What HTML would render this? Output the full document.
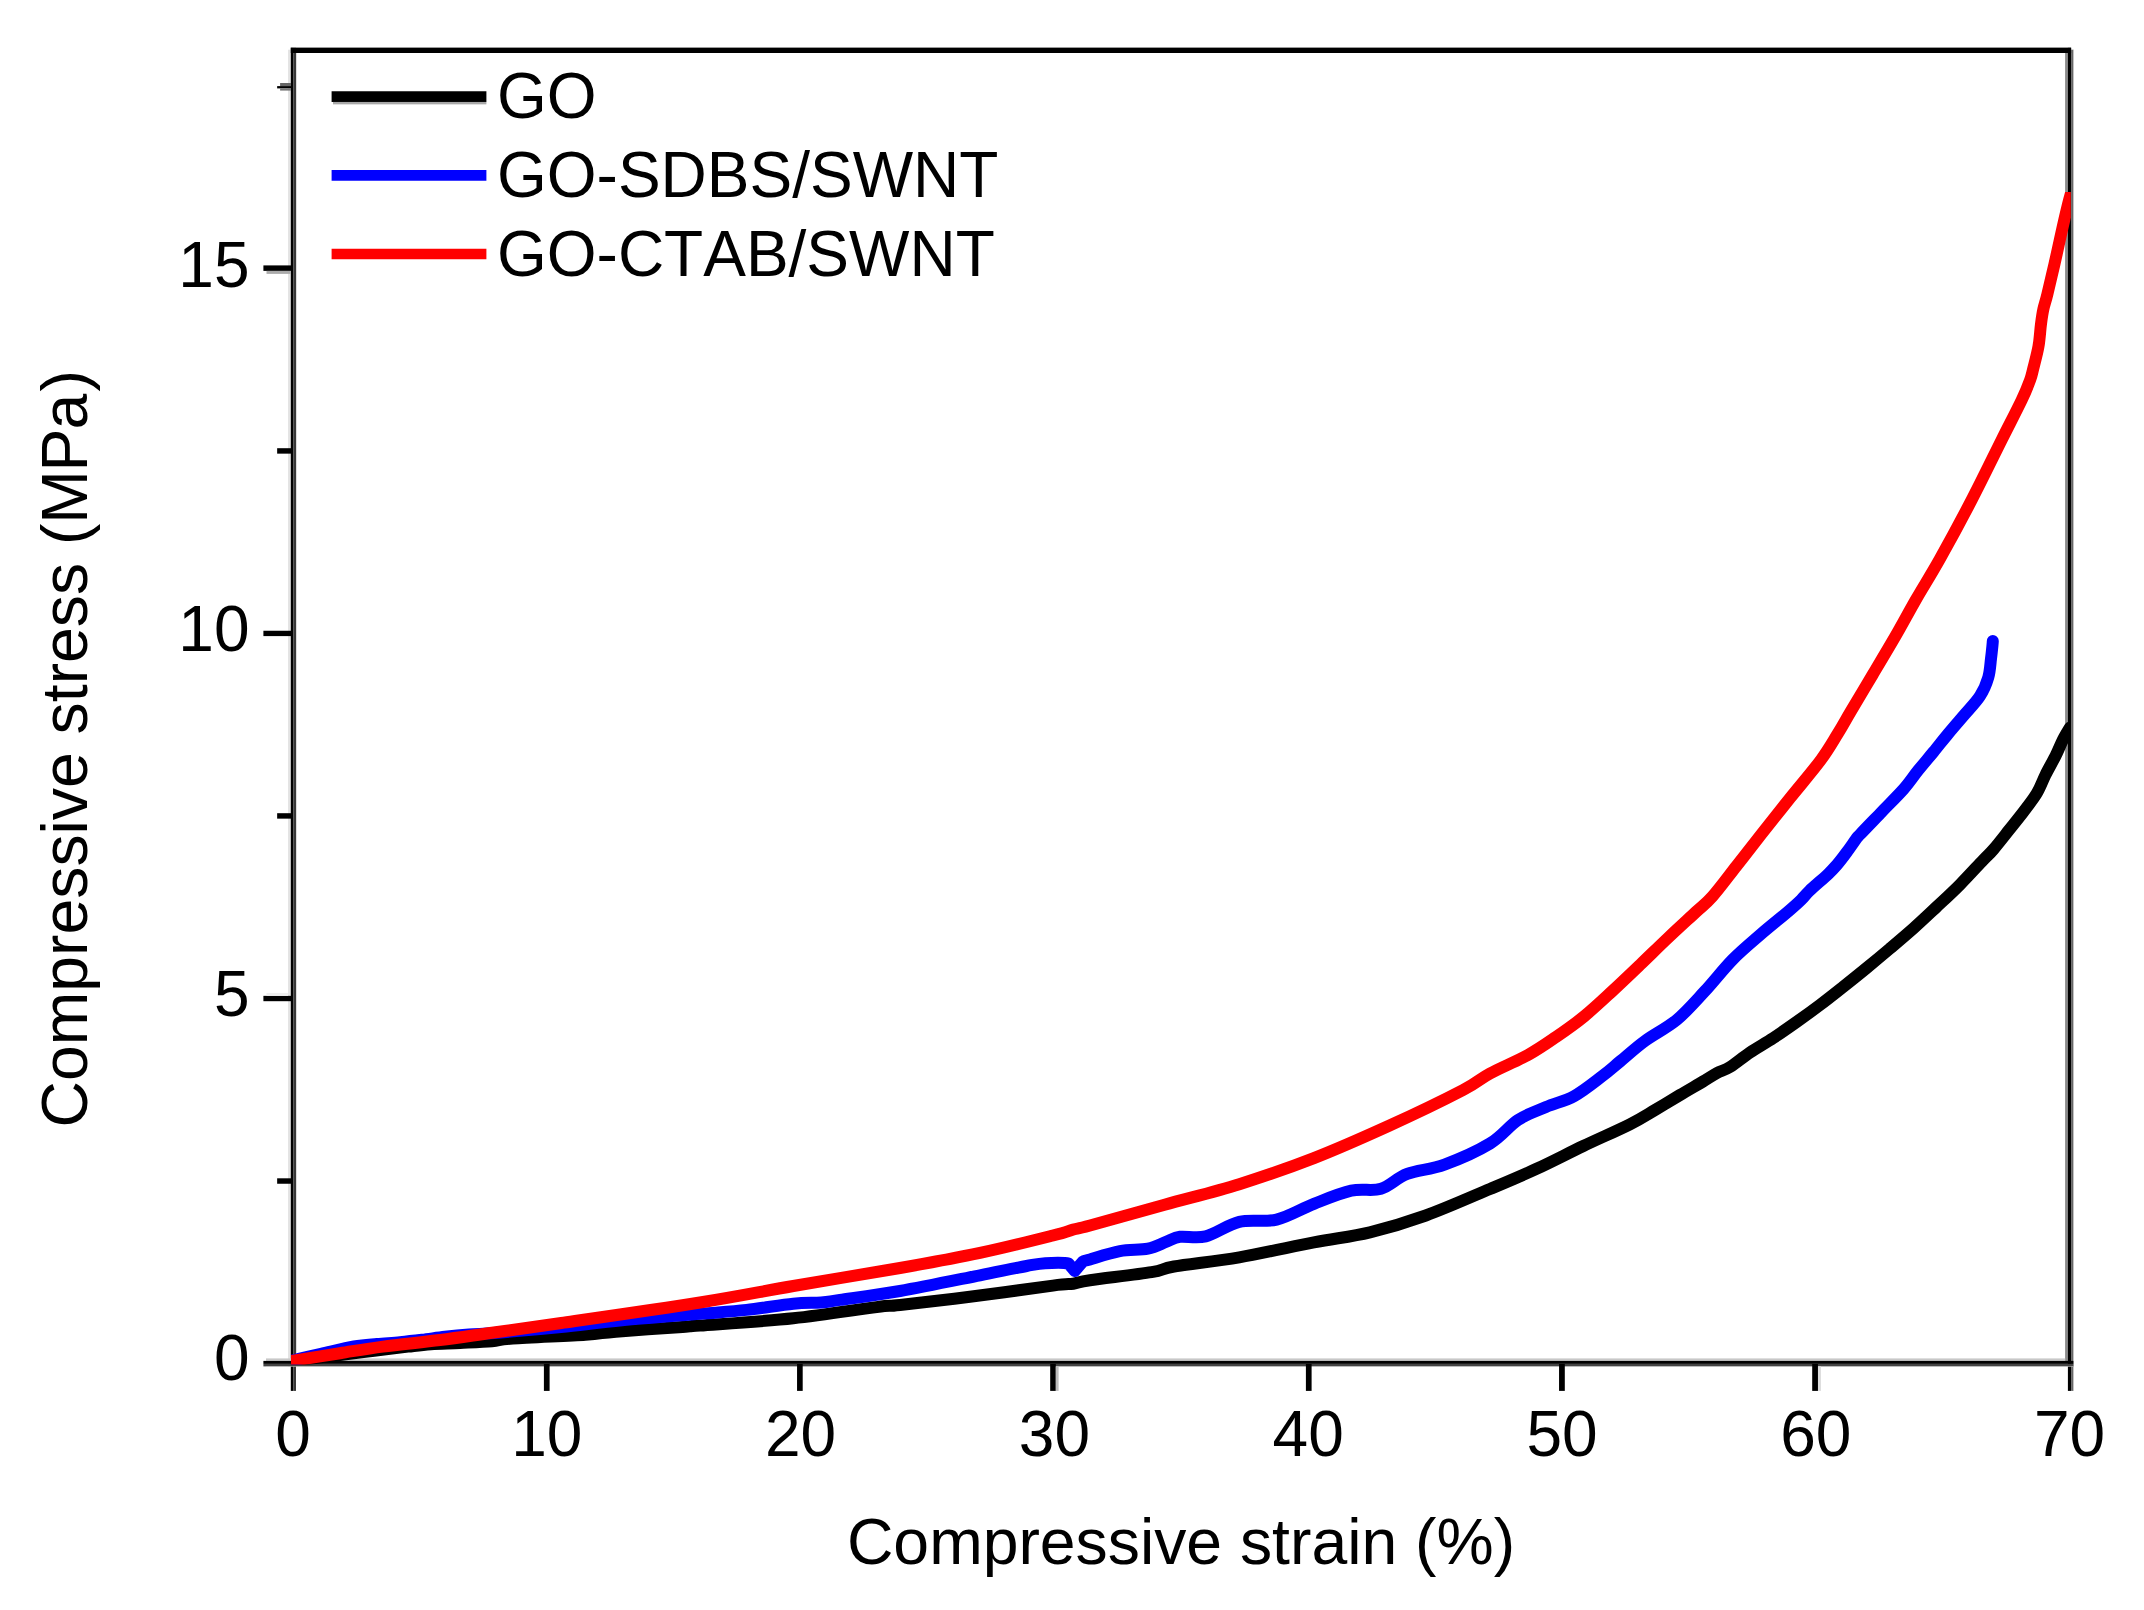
<!DOCTYPE html>
<html lang="en"><head><meta charset="utf-8"><title>Compressive stress vs compressive strain</title>
<style>html,body{margin:0;padding:0;background:#fff}body{width:2144px;height:1610px;overflow:hidden}svg{display:block}text{font-kerning:none;font-family:"Liberation Sans",Arial,Helvetica,sans-serif;fill:#000}</style>
</head><body>
<svg xmlns="http://www.w3.org/2000/svg" width="2144" height="1610" viewBox="0 0 2144 1610">
<rect x="0" y="0" width="2144" height="1610" fill="#fff"/>
<defs><clipPath id="plotclip"><rect x="291" y="47.4" width="1779.8000000000002" height="1317.1"/></clipPath><clipPath id="redclip"><rect x="0" y="192" width="2144" height="1300"/></clipPath></defs>
<g shape-rendering="auto">
<rect x="288.00" y="49.70" width="2.80" height="1317.20" fill="#e4e4e4"/>
<rect x="290.80" y="47.70" width="2.70" height="1343.20" fill="#000"/>
<rect x="293.50" y="47.70" width="2.50" height="1343.20" fill="#383838"/>
<rect x="296.00" y="52.70" width="0.70" height="1308.30" fill="#cfcfcf"/>
<rect x="2065.10" y="52.70" width="2.80" height="1308.30" fill="#8a8a8a"/>
<rect x="2067.90" y="47.70" width="3.20" height="1343.20" fill="#000"/>
<rect x="2071.10" y="49.70" width="2.30" height="1341.20" fill="#666"/>
<rect x="2073.40" y="49.70" width="0.60" height="1341.20" fill="#c4c4c4"/>
<rect x="290.80" y="47.20" width="1780.30" height="0.60" fill="#9a9a9a"/>
<rect x="290.80" y="47.80" width="1780.30" height="5.20" fill="#000"/>
<rect x="266.00" y="1358.40" width="1799.10" height="2.50" fill="#c8c8c8"/>
<rect x="263.40" y="1360.90" width="1810.00" height="3.00" fill="#000"/>
<rect x="263.40" y="1363.90" width="1810.00" height="2.50" fill="#444"/>
<rect x="266.00" y="1366.40" width="1807.40" height="0.60" fill="#c0c0c0"/>
<rect x="543.90" y="1363.90" width="5.70" height="27.00" fill="#000"/>
<rect x="797.05" y="1363.90" width="5.65" height="27.00" fill="#000"/>
<rect x="1050.20" y="1363.90" width="5.60" height="27.00" fill="#000"/>
<rect x="1305.90" y="1363.90" width="5.70" height="27.00" fill="#000"/>
<rect x="1559.05" y="1363.90" width="5.75" height="27.00" fill="#000"/>
<rect x="1812.20" y="1363.90" width="5.75" height="27.00" fill="#000"/>
<rect x="1055.80" y="1366.40" width="2.80" height="24.50" fill="#bdbdbd"/>
<rect x="1818.00" y="1366.40" width="3.00" height="24.50" fill="#dedede"/>
<rect x="263.40" y="995.85" width="28.10" height="5.35" fill="#000"/>
<rect x="263.40" y="630.75" width="28.10" height="5.35" fill="#000"/>
<rect x="263.40" y="265.40" width="28.10" height="5.50" fill="#000"/>
<rect x="266.50" y="270.90" width="24.50" height="3.00" fill="#ababab"/>
<rect x="266.50" y="992.90" width="21.50" height="2.95" fill="#eeeeee"/>
<rect x="277.15" y="448.20" width="14.35" height="5.45" fill="#000"/>
<rect x="277.15" y="813.20" width="14.35" height="5.45" fill="#000"/>
<rect x="277.15" y="1178.30" width="14.35" height="5.45" fill="#000"/>
<rect x="280.10" y="83.00" width="10.90" height="3.10" fill="#666"/>
<rect x="277.15" y="86.10" width="13.85" height="2.30" fill="#000"/>
<rect x="280.10" y="88.40" width="10.90" height="2.20" fill="#777"/>
</g>
<g clip-path="url(#plotclip)" fill="none" stroke-width="12.0" stroke-linejoin="round" stroke-linecap="round">
<path stroke="#000000" d="M291.0,1361.0 C299.2,1360.0 326.2,1356.7 340.0,1355.0 C353.8,1353.3 362.7,1352.2 374.0,1350.8 C385.3,1349.4 398.5,1347.7 408.0,1346.6 C417.5,1345.5 422.3,1344.8 431.0,1344.2 C439.7,1343.6 449.8,1343.5 460.0,1343.0 C470.2,1342.5 483.2,1342.0 492.0,1341.3 C500.8,1340.5 497.2,1339.6 512.8,1338.5 C528.4,1337.4 568.3,1335.8 585.5,1334.7 C602.7,1333.6 599.6,1333.0 615.8,1331.7 C632.0,1330.4 668.5,1327.9 682.5,1326.9 C696.5,1325.9 681.5,1326.9 700.0,1325.5 C718.5,1324.1 763.9,1321.4 793.3,1318.3 C822.7,1315.2 858.8,1309.3 876.6,1307.1 C894.4,1304.9 884.5,1306.7 900.0,1305.0 C915.5,1303.3 944.4,1300.0 969.9,1296.8 C995.4,1293.6 1035.7,1287.8 1052.9,1285.6 C1070.1,1283.4 1067.1,1284.6 1073.3,1283.7 C1079.5,1282.8 1077.0,1282.1 1090.0,1280.2 C1103.0,1278.3 1137.6,1274.5 1151.6,1272.2 C1165.6,1269.9 1159.4,1269.0 1174.0,1266.5 C1188.6,1264.0 1216.0,1261.3 1239.3,1257.3 C1262.6,1253.3 1292.1,1246.6 1313.9,1242.4 C1335.7,1238.2 1351.2,1236.8 1369.9,1232.3 C1388.6,1227.8 1405.8,1222.7 1425.8,1215.5 C1445.8,1208.3 1471.5,1196.8 1490.0,1189.0 C1508.5,1181.2 1521.0,1176.0 1536.6,1168.8 C1552.1,1161.6 1567.8,1153.4 1583.3,1146.0 C1598.8,1138.6 1618.0,1130.3 1629.9,1124.3 C1641.9,1118.3 1646.7,1114.9 1655.0,1110.0 C1663.3,1105.1 1672.0,1099.8 1680.0,1095.0 C1688.0,1090.2 1696.8,1085.2 1703.0,1081.5 C1709.2,1077.8 1712.5,1075.4 1717.0,1073.0 C1721.5,1070.6 1724.5,1070.4 1730.0,1067.0 C1735.5,1063.6 1742.8,1057.3 1750.0,1052.5 C1757.2,1047.7 1765.5,1043.1 1773.3,1038.0 C1781.0,1032.9 1788.7,1027.5 1796.5,1022.0 C1804.3,1016.5 1812.2,1010.8 1819.9,1005.0 C1827.7,999.2 1835.2,993.2 1843.0,987.0 C1850.8,980.8 1858.8,974.4 1866.6,968.0 C1874.4,961.6 1882.2,955.1 1890.0,948.5 C1897.8,941.9 1905.5,935.4 1913.3,928.5 C1921.0,921.6 1928.7,914.3 1936.5,907.0 C1944.3,899.7 1952.2,892.5 1959.9,884.7 C1967.6,876.9 1977.3,866.2 1982.9,860.3 C1988.5,854.4 1989.1,854.5 1993.4,849.5 C1997.7,844.5 2003.6,836.9 2008.6,830.6 C2013.6,824.3 2018.7,818.1 2023.4,811.9 C2028.1,805.7 2033.1,799.5 2036.8,793.3 C2040.5,787.1 2042.5,780.8 2045.6,774.6 C2048.7,768.4 2052.6,761.8 2055.5,756.0 C2058.4,750.2 2060.4,744.8 2062.8,740.0 C2065.2,735.2 2068.8,729.6 2070.0,727.5"/>
<path stroke="#0000ff" d="M291.0,1361.0 C292.3,1360.6 294.0,1360.0 299.0,1358.8 C304.0,1357.6 311.8,1355.8 321.0,1353.8 C330.2,1351.8 344.7,1348.1 354.0,1346.5 C363.3,1344.9 369.3,1344.7 377.0,1344.0 C384.7,1343.3 392.5,1342.9 400.0,1342.2 C407.5,1341.5 414.5,1340.7 422.0,1339.8 C429.5,1338.9 437.2,1337.7 445.0,1336.8 C452.8,1335.9 459.7,1335.2 469.0,1334.5 C478.3,1333.8 485.3,1333.8 500.6,1332.5 C515.9,1331.2 540.8,1329.0 561.0,1327.0 C581.2,1325.0 598.8,1322.4 622.0,1320.2 C645.2,1318.0 679.2,1315.5 700.0,1313.8 C720.8,1312.1 731.1,1311.6 746.6,1309.9 C762.1,1308.2 780.8,1305.0 793.3,1303.8 C805.8,1302.5 813.5,1303.1 821.3,1302.4 C829.1,1301.8 826.8,1301.8 839.9,1299.9 C853.0,1298.0 876.6,1295.1 900.0,1291.0 C923.4,1286.9 958.9,1279.5 980.0,1275.3 C1001.1,1271.1 1015.7,1268.0 1026.6,1266.0 C1037.5,1264.0 1038.3,1263.6 1045.3,1263.2 C1052.3,1262.8 1063.7,1262.3 1068.6,1263.6 L1074.7,1271.0 L1082.6,1261.8 C1085.1,1259.9 1083.8,1261.3 1090.0,1259.5 C1096.2,1257.7 1110.2,1253.0 1119.9,1251.2 C1129.6,1249.4 1140.1,1250.3 1147.9,1248.7 C1155.7,1247.1 1161.2,1243.7 1166.6,1241.7 C1171.9,1239.7 1173.5,1237.7 1180.0,1236.8 C1186.5,1235.9 1195.8,1238.9 1205.7,1236.4 C1215.6,1233.9 1227.5,1224.7 1239.3,1221.9 C1251.1,1219.1 1264.2,1222.6 1276.6,1219.6 C1289.0,1216.6 1301.5,1208.6 1313.9,1203.8 C1326.3,1199.0 1340.0,1193.2 1351.2,1190.7 C1362.4,1188.2 1371.7,1191.6 1381.0,1188.8 C1390.3,1186.0 1396.6,1177.9 1407.2,1173.9 C1417.8,1169.9 1430.7,1169.7 1444.5,1164.6 C1458.3,1159.5 1477.8,1150.9 1490.0,1143.5 C1502.2,1136.1 1508.7,1126.1 1518.0,1120.0 C1527.3,1113.9 1536.7,1111.0 1546.0,1107.0 C1555.3,1103.0 1564.7,1101.3 1574.0,1096.2 C1583.3,1091.1 1594.2,1082.2 1602.0,1076.3 C1609.8,1070.4 1613.4,1066.9 1620.6,1061.0 C1627.8,1055.1 1635.6,1047.8 1644.9,1041.0 C1654.2,1034.2 1666.6,1028.3 1676.6,1020.0 C1686.5,1011.7 1695.3,1001.4 1704.6,991.4 C1713.9,981.4 1723.2,969.2 1732.5,959.7 C1741.8,950.2 1751.2,942.6 1760.5,934.5 C1769.8,926.4 1781.8,917.0 1788.5,911.2 C1795.2,905.5 1797.5,903.4 1801.0,900.0 C1804.5,896.6 1804.8,895.3 1809.3,891.0 C1813.8,886.7 1823.2,878.7 1827.9,874.3 C1832.6,869.9 1834.1,868.1 1837.2,864.5 C1840.3,860.9 1843.5,856.6 1846.6,852.4 C1849.7,848.2 1853.7,842.3 1855.9,839.3 C1858.1,836.3 1855.7,839.1 1860.0,834.5 C1864.3,829.9 1874.7,819.2 1882.0,811.6 C1889.3,804.0 1897.7,795.8 1903.7,789.0 C1909.7,782.2 1913.0,776.8 1918.0,770.6 C1923.0,764.4 1928.4,758.1 1933.5,751.9 C1938.6,745.7 1943.3,739.5 1948.5,733.3 C1953.7,727.1 1959.2,720.8 1964.5,714.6 C1969.8,708.4 1976.0,702.2 1980.0,696.0 C1984.0,689.8 1986.5,683.5 1988.3,677.3 C1990.1,671.1 1990.3,664.1 1991.0,658.7 C1991.7,653.3 1992.2,648.0 1992.5,645.0 C1992.8,642.0 1992.8,641.7 1992.8,641.0"/>
<path stroke="#ff0000" clip-path="url(#redclip)" d="M291.0,1361.0 C299.2,1359.7 324.7,1355.6 340.0,1353.2 C355.3,1350.8 366.3,1348.8 383.0,1346.6 C399.7,1344.4 421.8,1342.3 440.0,1340.0 C458.2,1337.7 471.8,1335.6 492.0,1332.8 C512.2,1330.0 526.6,1328.0 561.3,1323.0 C596.0,1318.0 661.3,1308.7 700.0,1302.5 C738.7,1296.3 760.0,1291.8 793.3,1286.0 C826.6,1280.2 868.9,1273.5 900.0,1268.0 C931.1,1262.5 954.5,1258.3 980.0,1252.9 C1005.5,1247.5 1037.4,1239.4 1052.9,1235.5 C1068.5,1231.6 1067.1,1231.2 1073.3,1229.5 C1079.5,1227.8 1074.8,1229.6 1090.0,1225.5 C1105.2,1221.4 1139.7,1211.6 1164.6,1204.7 C1189.5,1197.8 1214.4,1192.0 1239.3,1184.2 C1264.2,1176.4 1289.0,1167.8 1313.9,1158.1 C1338.8,1148.4 1363.6,1137.3 1388.5,1126.0 C1413.4,1114.7 1446.2,1098.8 1463.1,1090.0 C1480.0,1081.2 1479.2,1079.3 1490.0,1073.5 C1500.8,1067.7 1517.0,1061.1 1528.0,1055.0 C1539.0,1048.9 1546.7,1043.4 1556.0,1037.0 C1565.3,1030.6 1574.7,1024.1 1584.0,1016.5 C1593.3,1008.9 1602.6,1000.1 1611.9,991.5 C1621.2,982.9 1630.6,973.9 1639.9,965.0 C1649.2,956.1 1658.6,946.8 1667.9,938.0 C1677.2,929.2 1688.5,918.9 1695.9,912.0 C1703.3,905.1 1705.6,904.2 1712.4,896.5 C1719.2,888.8 1728.4,876.3 1736.5,866.0 C1744.6,855.7 1752.0,846.0 1761.0,834.6 C1770.0,823.2 1780.5,809.9 1790.5,797.5 C1800.5,785.1 1812.9,770.7 1820.8,760.0 C1828.7,749.3 1833.0,741.3 1838.0,733.3 C1843.0,725.3 1844.7,721.7 1850.5,711.9 C1856.3,702.1 1865.3,687.0 1872.7,674.6 C1880.1,662.2 1887.6,649.7 1894.8,637.3 C1902.0,624.9 1908.2,613.1 1915.7,600.0 C1923.2,586.9 1930.5,575.7 1939.9,558.9 C1949.3,542.1 1961.7,519.2 1972.0,499.3 C1982.3,479.4 1993.5,456.2 2001.8,439.6 C2010.1,423.1 2017.0,409.9 2021.7,400.0 C2026.4,390.1 2028.2,385.2 2030.1,380.0 C2032.0,374.8 2031.8,374.3 2033.2,368.7 C2034.6,363.1 2037.2,353.8 2038.5,346.3 C2039.8,338.8 2040.2,330.1 2041.0,323.9 C2041.8,317.7 2042.3,314.0 2043.4,309.0 C2044.5,304.0 2045.6,301.6 2047.4,294.1 C2049.2,286.7 2052.1,274.2 2054.4,264.3 C2056.7,254.4 2058.8,244.4 2061.0,234.5 C2063.2,224.6 2065.9,212.8 2067.9,204.7 C2069.9,196.6 2072.2,189.1 2073.0,186.0"/>
</g>
<g fill="none" stroke-width="10.7" stroke-linecap="butt">
<line x1="331.6" y1="96.6" x2="486.4" y2="96.6" stroke="#000000"/>
<line x1="331.6" y1="175.45" x2="486.4" y2="175.45" stroke="#0000ff"/>
<line x1="331.6" y1="254.0" x2="486.4" y2="254.0" stroke="#ff0000"/>
</g>
<rect x="333" y="101.95" width="153.4" height="2.4" fill="#a8a8a8"/>
<g font-size="64">
<text x="497" y="117.8">GO</text>
<text x="497" y="197.3">GO-SDBS/SWNT</text>
<text x="497" y="276.0">GO-CTAB/SWNT</text>
<text x="249.5" y="1379.8" text-anchor="end">0</text>
<text x="249.5" y="1015.9" text-anchor="end">5</text>
<text x="249.5" y="651.2" text-anchor="end">10</text>
<text x="249.5" y="286.6" text-anchor="end">15</text>
<text x="293.0" y="1456.3" text-anchor="middle">0</text>
<text x="546.8" y="1456.3" text-anchor="middle">10</text>
<text x="800.6" y="1456.3" text-anchor="middle">20</text>
<text x="1054.4" y="1456.3" text-anchor="middle">30</text>
<text x="1308.2" y="1456.3" text-anchor="middle">40</text>
<text x="1562.0" y="1456.3" text-anchor="middle">50</text>
<text x="1815.8" y="1456.3" text-anchor="middle">60</text>
<text x="2069.6" y="1456.3" text-anchor="middle">70</text>
</g>
<text x="1181" y="1564.4" font-size="64.3" text-anchor="middle">Compressive strain (%)</text>
<text transform="translate(86.8,748.7) rotate(-90)" font-size="64.3" text-anchor="middle">Compressive stress (M<tspan dx="-1.5">P</tspan><tspan dx="-0.8">a</tspan><tspan dx="2.3">)</tspan></text>
</svg>
</body></html>
